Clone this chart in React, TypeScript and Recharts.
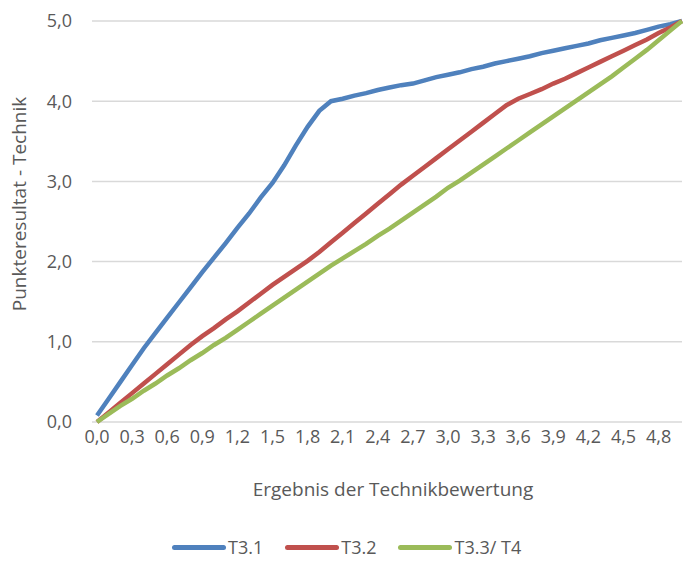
import { LineChart, Line, XAxis, YAxis, CartesianGrid } from "recharts";

const categories = [
  "0,0", "0,1", "0,2", "0,3", "0,4", "0,5", "0,6", "0,7", "0,8", "0,9",
  "1,0", "1,1", "1,2", "1,3", "1,4", "1,5", "1,6", "1,7", "1,8", "1,9",
  "2,0", "2,1", "2,2", "2,3", "2,4", "2,5", "2,6", "2,7", "2,8", "2,9",
  "3,0", "3,1", "3,2", "3,3", "3,4", "3,5", "3,6", "3,7", "3,8", "3,9",
  "4,0", "4,1", "4,2", "4,3", "4,4", "4,5", "4,6", "4,7", "4,8", "4,9",
  "5,0",
];

const t31 = [
  0.08, 0.29, 0.5, 0.71, 0.92, 1.11, 1.3, 1.49, 1.68, 1.87,
  2.05, 2.23, 2.42, 2.6, 2.8, 2.98, 3.2, 3.45, 3.68, 3.88,
  4.0, 4.03, 4.07, 4.1, 4.14, 4.17, 4.2, 4.22, 4.26, 4.3,
  4.33, 4.36, 4.4, 4.43, 4.47, 4.5, 4.53, 4.56, 4.6, 4.63,
  4.66, 4.69, 4.72, 4.76, 4.79, 4.82, 4.85, 4.89, 4.93, 4.96,
  5.0,
];

const t32 = [
  0, 0.12, 0.24, 0.36, 0.48, 0.6, 0.72, 0.84, 0.96, 1.07,
  1.17, 1.28, 1.38, 1.49, 1.6, 1.71, 1.81, 1.91, 2.01, 2.12,
  2.24, 2.36, 2.48, 2.6, 2.72, 2.84, 2.96, 3.07, 3.18, 3.29,
  3.4, 3.51, 3.62, 3.73, 3.84, 3.95, 4.03, 4.09, 4.15, 4.22,
  4.28, 4.35, 4.42, 4.49, 4.56, 4.63, 4.7, 4.77, 4.85, 4.92,
  5.0,
];

const t33 = [
  0, 0.1, 0.2, 0.29, 0.39, 0.48, 0.58, 0.67, 0.77, 0.86,
  0.96, 1.05, 1.15, 1.25, 1.35, 1.45, 1.55, 1.65, 1.75, 1.85,
  1.95, 2.04, 2.13, 2.22, 2.32, 2.41, 2.51, 2.61, 2.71, 2.81,
  2.92, 3.01, 3.11, 3.21, 3.31, 3.41, 3.51, 3.61, 3.71, 3.81,
  3.91, 4.01, 4.11, 4.21, 4.31, 4.42, 4.53, 4.64, 4.76, 4.88,
  5.0,
];

const yTicks = [0, 1, 2, 3, 4, 5];

const series = [
  { key: "t31", name: "T3.1", color: "#4F81BD" },
  { key: "t32", name: "T3.2", color: "#C0504D" },
  { key: "t33", name: "T3.3/ T4", color: "#9BBB59" },
];

const data = categories.map((cat, i) => ({
  cat,
  t31: t31[i],
  t32: t32[i],
  t33: t33[i],
}));

const FONT = "'Open Sans', sans-serif";
const TEXT = "#595959";

export default function App() {
  return (
    <div style={{ position: "absolute", left: 0, top: 0, width: 683, height: 562, background: "#fff", fontFamily: FONT }}>
      <LineChart
        width={683}
        height={562}
        data={data}
        margin={{ top: 21, right: 1, left: 0, bottom: 60 }}
      >
        <CartesianGrid vertical={false} stroke="#d9d9d9" strokeWidth={1.5} />
        <XAxis
          dataKey="cat"
          interval={2}
          axisLine={false}
          tickLine={false}
          height={80}
          padding={{ left: 5, right: 0 }}
          tick={{ fill: TEXT, fontSize: 18, fontFamily: FONT }}
          tickMargin={2}
          label={{
            content: () => (
              <text x={393} y={496} textAnchor="middle" fill={TEXT} fontSize={19} fontFamily={FONT}>
                Ergebnis der Technikbewertung
              </text>
            ),
          }}
        />
        <YAxis
          domain={[0, 5]}
          ticks={yTicks}
          width={92}
          axisLine={false}
          tickLine={false}
          tickMargin={14}
          tickFormatter={(v: number) => v.toFixed(1).replace(".", ",")}
          tick={{ fill: TEXT, fontSize: 18, fontFamily: FONT }}
          label={{
            content: () => (
              <text
                x={26}
                y={204}
                transform="rotate(-90 26 204)"
                textAnchor="middle"
                fill={TEXT}
                fontSize={19}
                fontFamily={FONT}
              >
                Punkteresultat - Technik
              </text>
            ),
          }}
        />
        {series.map((s) => (
          <Line
            key={s.key}
            type="linear"
            dataKey={s.key}
            name={s.name}
            stroke={s.color}
            strokeWidth={4.5}
            dot={false}
            activeDot={false}
            isAnimationActive={false}
          />
        ))}
      </LineChart>
      <div
        style={{
          position: "absolute",
          left: 172,
          top: 534,
          display: "flex",
          alignItems: "center",
          color: TEXT,
          fontSize: 18,
          lineHeight: "26px",
        }}
      >
        {series.map((s) => (
          <div key={s.key} style={{ display: "flex", alignItems: "center", marginRight: 22 }}>
            <span style={{ width: 54, height: 5, borderRadius: 3, background: s.color, marginRight: 2 }} />
            <span>{s.name}</span>
          </div>
        ))}
      </div>
    </div>
  );
}
